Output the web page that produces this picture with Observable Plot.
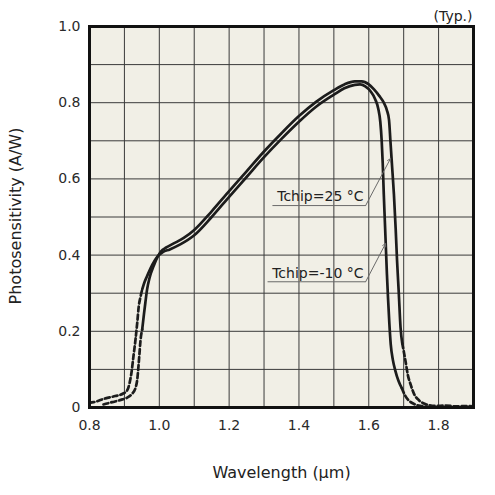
<!DOCTYPE html>
<html>
<head>
<meta charset="utf-8">
<script src="https://cdn.jsdelivr.net/npm/d3@7"></script>
<script src="https://cdn.jsdelivr.net/npm/@observablehq/plot@0.6"></script>
<style>
  html, body { margin: 0; padding: 0; background: #ffffff; }
  #chart { width: 495px; height: 495px; }
  svg { font-family: "DejaVu Sans", Verdana, sans-serif; }
</style>
</head>
<body>
<div id="chart"></div>
<script>
// ---- data ----
const seriesNames = ["Tchip=25 °C", "Tchip=-10 °C"];

const wavelength25 = [0.84, 0.865, 0.89, 0.908, 0.922, 0.932, 0.937, 0.94, 0.943, 0.946, 0.951,
  0.956, 0.960, 0.965, 0.972, 0.984, 0.995, 1.005, 1.02, 1.04, 1.07, 1.10, 1.15, 1.20, 1.25,
  1.30, 1.35, 1.40, 1.45, 1.50, 1.53, 1.56, 1.58, 1.60, 1.615, 1.63, 1.643, 1.652, 1.658,
  1.662, 1.667, 1.672, 1.677, 1.681, 1.686, 1.691, 1.696,
  1.705, 1.712, 1.72, 1.73, 1.745, 1.765, 1.79, 1.82, 1.85, 1.88, 1.9];
const resp25 = [0.008, 0.014, 0.02, 0.026, 0.036, 0.052, 0.075, 0.105, 0.14, 0.175, 0.205,
  0.245, 0.275, 0.31, 0.34, 0.372, 0.395, 0.41, 0.42, 0.43, 0.445, 0.466, 0.515, 0.568, 0.62,
  0.672, 0.72, 0.765, 0.803, 0.833, 0.848, 0.856, 0.856, 0.848, 0.835, 0.818, 0.80, 0.78, 0.755,
  0.70, 0.63, 0.56, 0.47, 0.386, 0.30, 0.21, 0.168,
  0.123, 0.085, 0.06, 0.035, 0.018, 0.008, 0.004, 0.005, 0.003, 0.004, 0.003];
const solidRange25 = [0.951, 1.696];

const wavelengthM10 = [0.80, 0.812, 0.846, 0.874, 0.895, 0.908, 0.915, 0.92, 0.926, 0.932, 0.937,
  0.941, 0.946, 0.951, 0.958, 0.965, 0.98, 0.995, 1.01, 1.03, 1.06, 1.10, 1.15, 1.20, 1.25,
  1.30, 1.35, 1.40, 1.45, 1.50, 1.53, 1.56, 1.575, 1.59, 1.605, 1.618, 1.627, 1.633, 1.637,
  1.640, 1.643, 1.646, 1.649, 1.652, 1.655, 1.659, 1.663, 1.669, 1.676, 1.685, 1.695,
  1.705, 1.715, 1.73, 1.75, 1.77];
const respM10 = [0.012, 0.014, 0.024, 0.03, 0.036, 0.045, 0.065, 0.09, 0.135, 0.18, 0.225,
  0.265, 0.29, 0.31, 0.33, 0.345, 0.375, 0.397, 0.408, 0.415, 0.428, 0.452, 0.50, 0.553, 0.605,
  0.657, 0.705, 0.75, 0.79, 0.821, 0.838, 0.847, 0.848, 0.843, 0.83, 0.81, 0.785, 0.75, 0.70,
  0.64, 0.56, 0.49, 0.42, 0.35, 0.29, 0.22, 0.165, 0.125, 0.097, 0.07, 0.05,
  0.03, 0.018, 0.009, 0.004, 0.002];
const solidRangeM10 = [0.951, 1.695];

const xTicks = [0.8, 1.0, 1.2, 1.4, 1.6, 1.8];
const yTicks = [0, 0.2, 0.4, 0.6, 0.8, 1.0];
const xGrid = [0.9, 1.0, 1.1, 1.2, 1.3, 1.4, 1.5, 1.6, 1.7, 1.8];
const yGrid = [0.1, 0.2, 0.3, 0.4, 0.5, 0.6, 0.7, 0.8, 0.9];

const xTitle = "Wavelength (µm)";
const yTitle = "Photosensitivity (A/W)";
const noteText = "(Typ.)";

// callouts: label text anchor (right end), underline start, and point on curve (data units)
const calloutText = seriesNames;
const calloutTextX = [1.585, 1.585];
const calloutTextY = [0.554, 0.352];
const calloutLineX1 = [1.324, 1.310];
const calloutLineX2 = [1.591, 1.591];
const calloutLineY = [0.530, 0.330];
const calloutTipX = [1.662, 1.648];
const calloutTipY = [0.653, 0.430];

// ---- build tables ----
function split(xs, ys, range) {
  const pts = xs.map((x, i) => ({x, y: ys[i]}));
  return {
    left: pts.filter(p => p.x <= range[0]),
    solid: pts.filter(p => p.x >= range[0] && p.x <= range[1]),
    right: pts.filter(p => p.x >= range[1])
  };
}
const s25 = split(wavelength25, resp25, solidRange25);
const sM10 = split(wavelengthM10, respM10, solidRangeM10);

const callouts = calloutText.map((t, i) => ({
  t, tx: calloutTextX[i], ty: calloutTextY[i],
  x1: calloutLineX1[i], x2: calloutLineX2[i], ly: calloutLineY[i],
  px: calloutTipX[i], py: calloutTipY[i]
}));

const ink = "#1c1c1c";
const lineW = 2.7;
const dash = "5,3";
const fontFamily = "'DejaVu Sans', Verdana, sans-serif";

const chart = Plot.plot({
  width: 495,
  height: 495,
  marginLeft: 89,
  marginRight: 22,
  marginTop: 26,
  marginBottom: 88,
  style: {fontFamily, fontSize: "14px", color: "#2a2a2a", background: "#ffffff"},
  x: {domain: [0.8, 1.9], ticks: xTicks, tickFormat: d => d.toFixed(1), tickSize: 0, tickPadding: 13, label: null},
  y: {domain: [0, 1.0], ticks: yTicks, tickFormat: d => d === 0 ? "0" : d.toFixed(1), tickSize: 0, tickPadding: 9, label: null},
  marks: [
    Plot.frame({fill: "#f1efe6", stroke: null}),
    Plot.ruleX(xGrid, {stroke: "#3a3a3a", strokeWidth: 1}),
    Plot.ruleY(yGrid, {stroke: "#3a3a3a", strokeWidth: 1}),
    // -10 °C
    Plot.line(sM10.left, {x: "x", y: "y", stroke: ink, strokeWidth: lineW, strokeDasharray: dash, curve: "monotone-x"}),
    Plot.line(sM10.solid, {x: "x", y: "y", stroke: ink, strokeWidth: lineW, curve: "monotone-x"}),
    Plot.line(sM10.right, {x: "x", y: "y", stroke: ink, strokeWidth: lineW, strokeDasharray: dash, curve: "monotone-x"}),
    // 25 °C
    Plot.line(s25.left, {x: "x", y: "y", stroke: ink, strokeWidth: lineW, strokeDasharray: dash, curve: "monotone-x"}),
    Plot.line(s25.solid, {x: "x", y: "y", stroke: ink, strokeWidth: lineW, curve: "monotone-x"}),
    Plot.line(s25.right, {x: "x", y: "y", stroke: ink, strokeWidth: lineW, strokeDasharray: dash, curve: "monotone-x"}),
    // callouts
    Plot.link(callouts, {x1: "x1", x2: "x2", y1: "ly", y2: "ly", stroke: "#6a6a6a", strokeWidth: 1}),
    Plot.arrow(callouts, {x1: "x2", y1: "ly", x2: "px", y2: "py", stroke: "#6a6a6a", strokeWidth: 1, headLength: 5, bend: 0}),
    Plot.text(callouts, {x: "tx", y: "ty", text: "t", textAnchor: "end", lineAnchor: "middle", fill: "#222", fontSize: 14}),
    // outer frame
    Plot.frame({stroke: "#111", strokeWidth: 3}),
    // titles
    Plot.text([xTitle], {text: d => d, frameAnchor: "bottom", dy: 65, textAnchor: "middle", lineAnchor: "middle", fontSize: 16, fill: "#222"}),
    Plot.text([yTitle], {text: d => d, frameAnchor: "left", dx: -74, dy: -1, rotate: -90, textAnchor: "middle", lineAnchor: "middle", fontSize: 16, fill: "#222"}),
    Plot.text([noteText], {text: d => d, frameAnchor: "top-right", dy: -10, dx: -1, textAnchor: "end", lineAnchor: "middle", fontSize: 14, fill: "#222"})
  ]
});
document.getElementById("chart").appendChild(chart);
</script>
</body>
</html>
